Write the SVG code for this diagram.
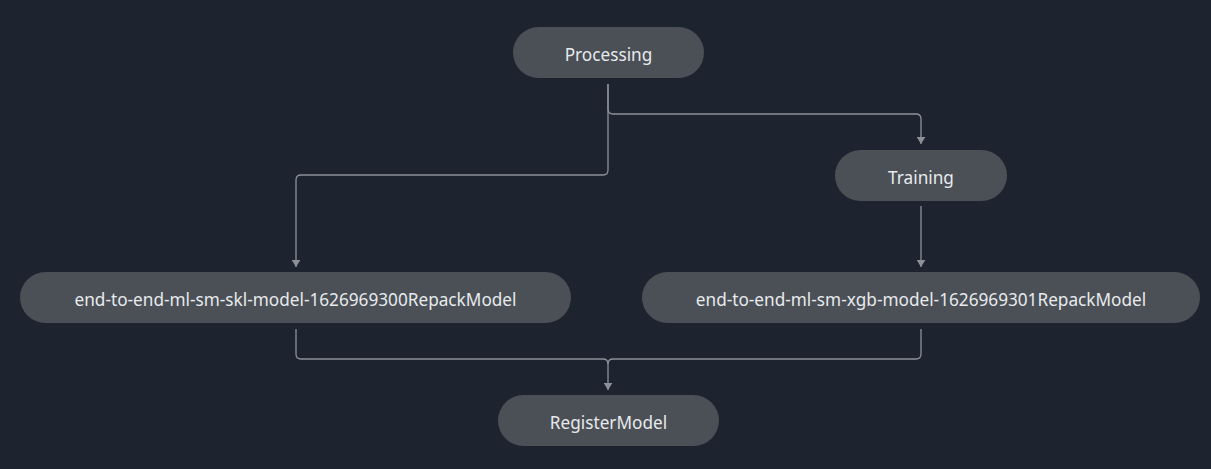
<svg xmlns="http://www.w3.org/2000/svg" width="1211" height="469" viewBox="0 0 1211 469">
<defs>
<style>
.node rect{fill:#4a5056}
.node text{fill:#e8eaed;font-family:"Noto Sans",sans-serif;font-size:17.2px;text-anchor:middle;dominant-baseline:central}
.edge{fill:none;stroke:#8c9198;stroke-width:1.3}
</style>
<marker id="arrd" viewBox="0 0 10 8" refX="5" refY="8" markerWidth="9" markerHeight="7" markerUnits="userSpaceOnUse" orient="0">
<path d="M0,0 L10,0 L5,8 Z" fill="#8c9198"/>
</marker>
</defs>
<rect width="1211" height="469" fill="#1e2330"/>
<g id="connectors">
<path class="edge" marker-end="url(#arrd)" d="M608,84 V170 Q608,175 603,175 H301 Q296,175 296,180 V267"/>
<path class="edge" marker-end="url(#arrd)" d="M608,84 V109 Q608,114 613,114 H916 Q921,114 921,119 V144"/>
<path class="edge" marker-end="url(#arrd)" d="M921,206 V267"/>
<path class="edge" marker-end="url(#arrd)" d="M296,329 V354 Q296,359 301,359 H603 Q608,359 608,364 V390"/>
<path class="edge" d="M921,329 V354 Q921,359 916,359 H613 Q608,359 608,364"/>
</g>
<g id="n-processing" class="node"><rect x="513" y="27" width="191" height="51" rx="25.5"/><text x="608.5" y="54">Processing</text></g>
<g id="n-training" class="node"><rect x="835" y="150" width="172" height="51" rx="25.5"/><text x="921" y="177">Training</text></g>
<g id="n-skl" class="node"><rect x="20" y="272" width="551" height="51" rx="25.5"/><text x="295.5" y="299">end-to-end-ml-sm-skl-model-1626969300RepackModel</text></g>
<g id="n-xgb" class="node"><rect x="642" y="272" width="558" height="51" rx="25.5"/><text x="921" y="299">end-to-end-ml-sm-xgb-model-1626969301RepackModel</text></g>
<g id="n-register" class="node"><rect x="498" y="395" width="221" height="51" rx="25.5"/><text x="608.5" y="422">RegisterModel</text></g>
</svg>
